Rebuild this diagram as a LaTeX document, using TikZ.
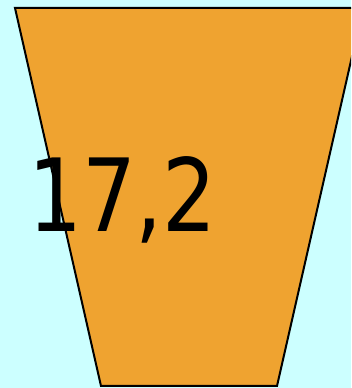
\documentclass[tikz,border=0pt]{standalone}
\usepackage{fontspec}
\newfontfamily\valfont[FakeStretch=0.84]{DejaVu Sans}
\usetikzlibrary{positioning}
\definecolor{bgcyan}{RGB}{204,255,255}
\definecolor{beltorange}{RGB}{239,163,48}
\tikzset{
    beltshape/.style={fill=beltorange, draw=black, line width=2pt, line join=miter},
    vallabel/.style={font=\valfont\fontsize{101}{101}\selectfont, inner sep=0pt, anchor=base},
}
\begin{document}
\begin{tikzpicture}[x=1pt, y=1pt]
    % background and frame
    \fill[bgcyan] (0,0) rectangle (351,388);
    \useasboundingbox (0,0) rectangle (351,388);
    \begin{scope}
        \clip (0,0) rectangle (351,388);
        \draw[beltshape] (15,380) -- (363,380) -- (277,2) -- (101,2) -- cycle;
    \end{scope}
    \node[vallabel] (val) at (122.5,156) {17,2};
\end{tikzpicture}
\end{document}
